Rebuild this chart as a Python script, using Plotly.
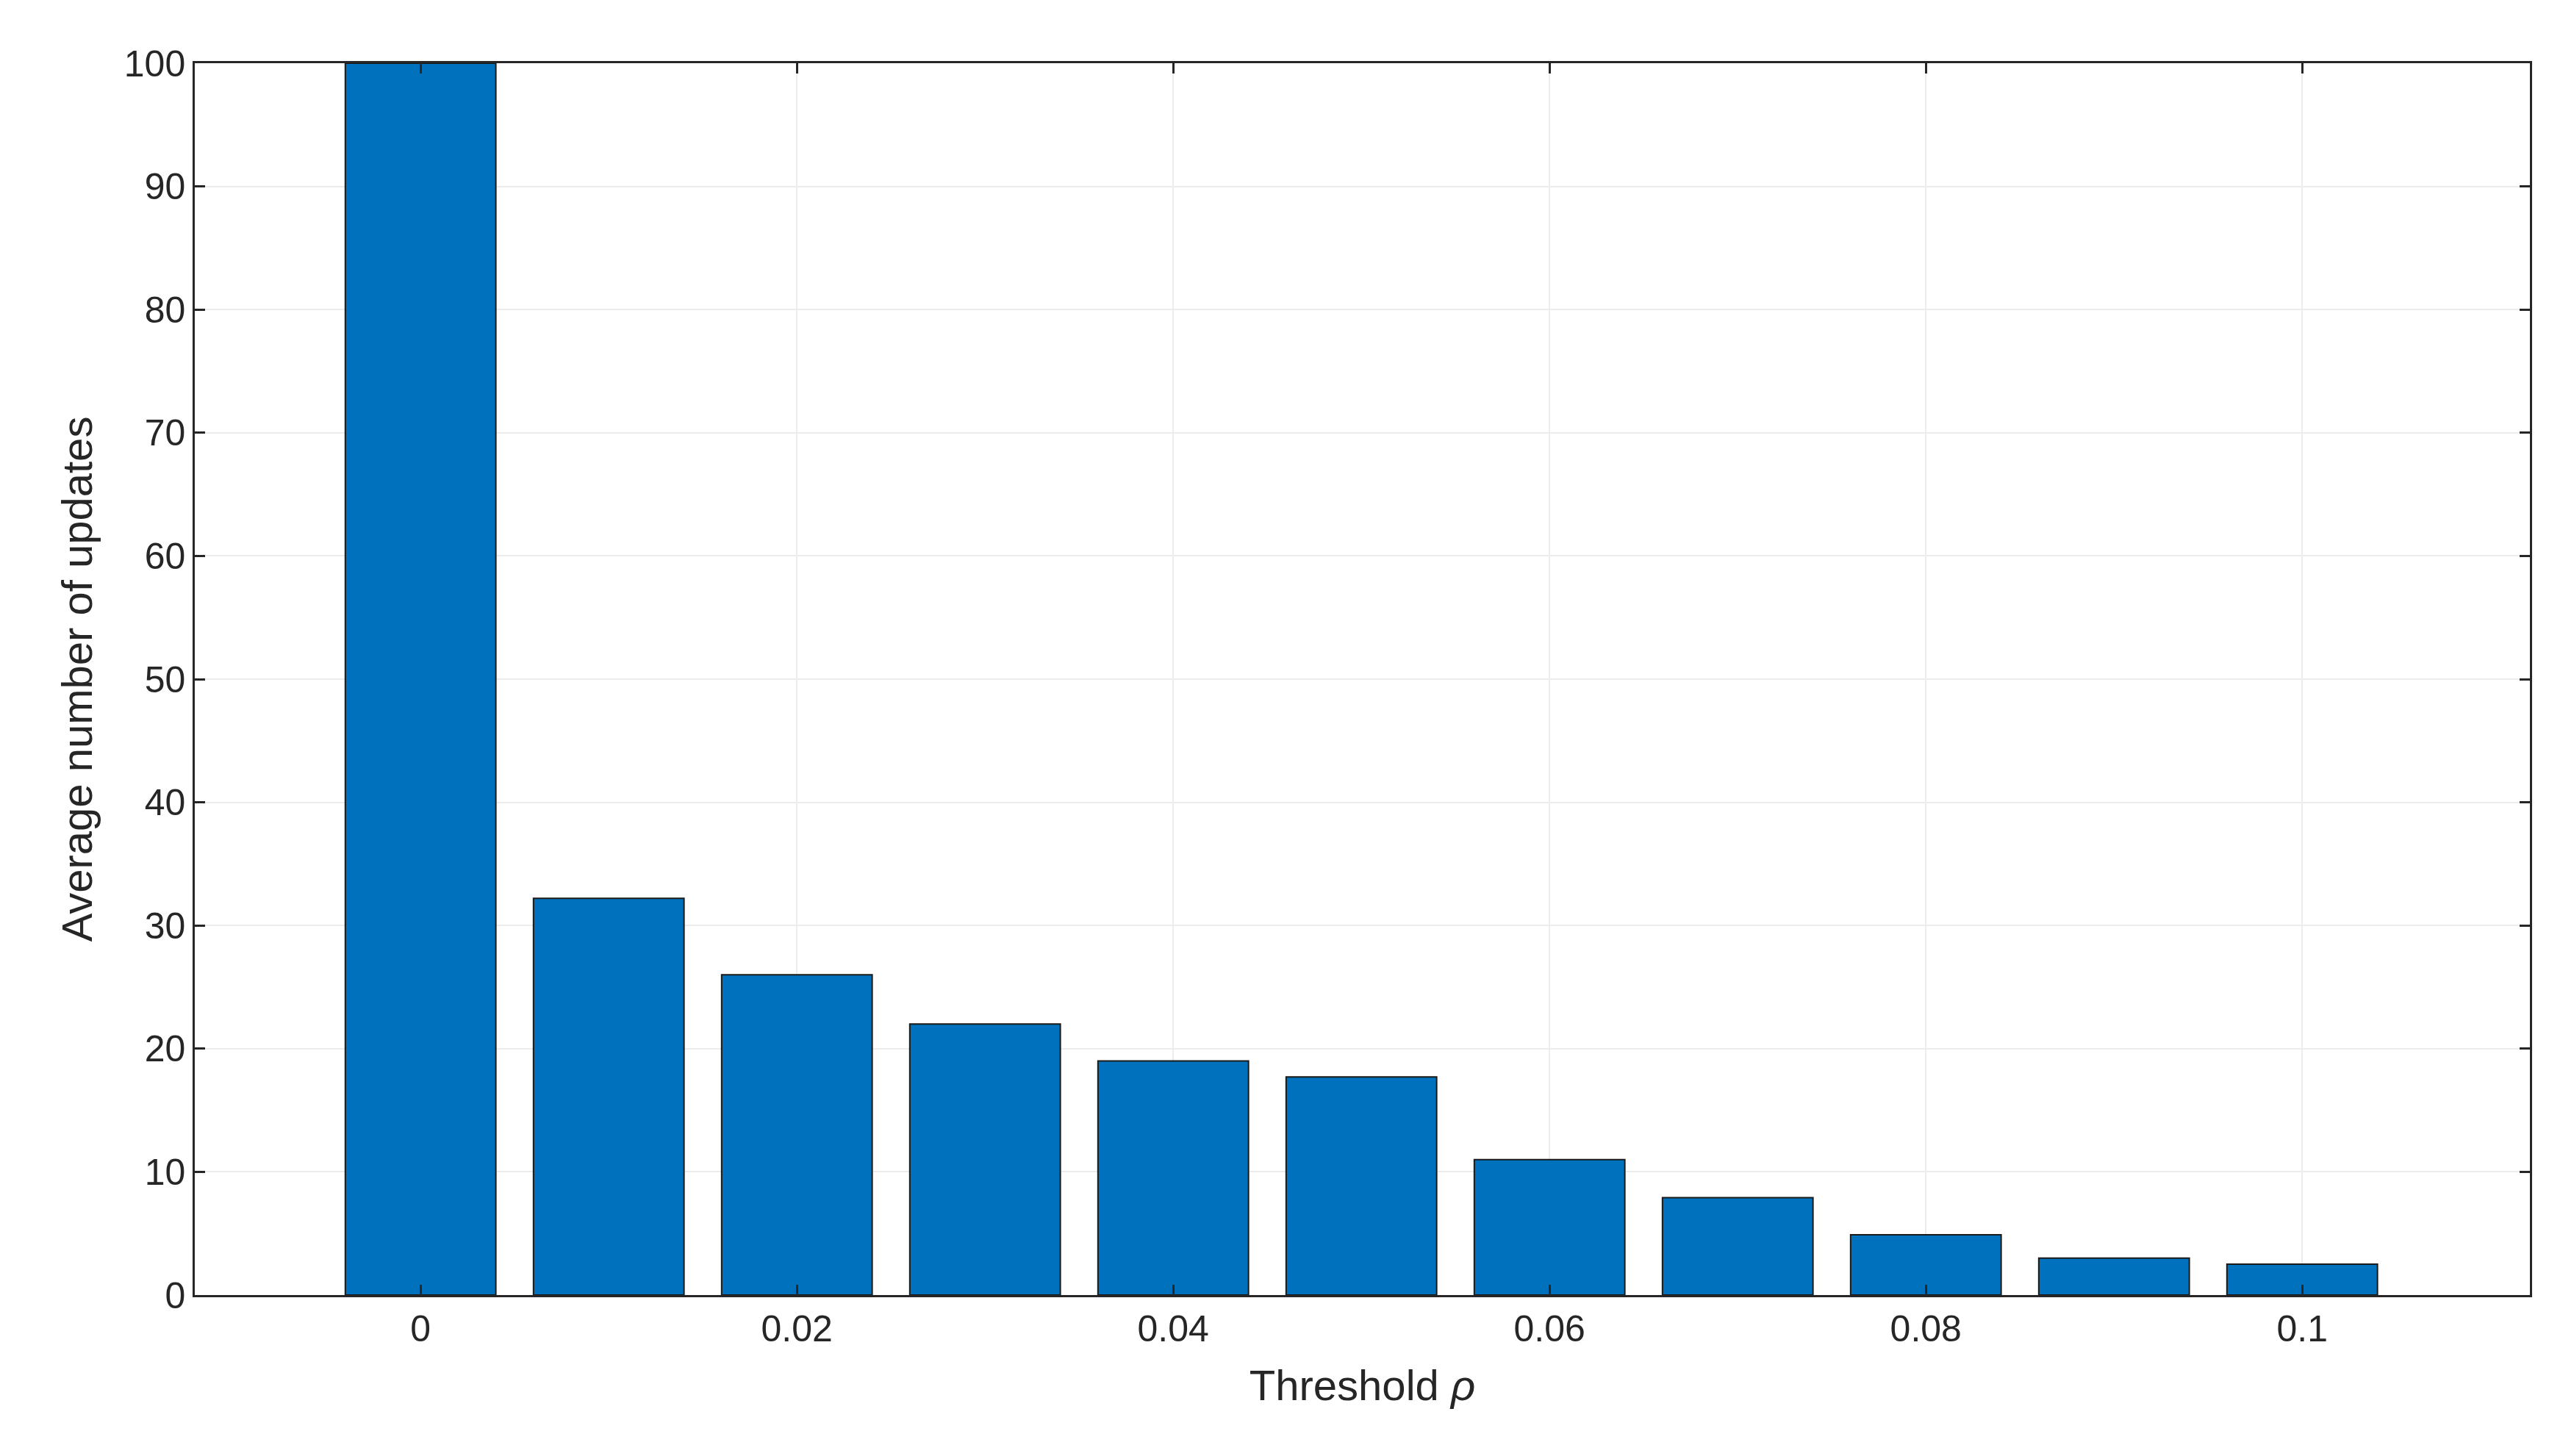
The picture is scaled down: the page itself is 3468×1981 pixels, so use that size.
import plotly.graph_objects as go

thresholds = [0, 0.01, 0.02, 0.03, 0.04, 0.05, 0.06, 0.07, 0.08, 0.09, 0.1]
updates = [100, 32.2, 26.0, 22.0, 19.0, 17.7, 11.0, 7.9, 4.9, 3.0, 2.5]
xticks = [0, 0.02, 0.04, 0.06, 0.08, 0.1]
xticklabels = ["0", "0.02", "0.04", "0.06", "0.08", "0.1"]

fig = go.Figure(go.Bar(x=thresholds, y=updates, width=0.008,
                       marker=dict(color="#0072BD", line=dict(color="#1a1a1a", width=2))))
ax = dict(showline=True, linecolor="#262626", linewidth=2.5, mirror="ticks", ticks="inside",
          ticklen=14, tickwidth=2.5, tickcolor="#262626", showgrid=True, gridcolor="#ececec",
          gridwidth=2, zeroline=False, tickfont=dict(size=50, color="#262626"))
fig.update_layout(
    width=3468, height=1981, plot_bgcolor="white", paper_bgcolor="white",
    font=dict(family="Arial, Liberation Sans, sans-serif", color="#262626"),
    margin=dict(l=257, r=34, t=78, b=227), showlegend=False,
    xaxis=dict(ax, range=[-0.012, 0.1121], tickvals=xticks, ticktext=xticklabels,
               title=dict(text="Threshold <i>ρ</i>", font=dict(size=58), standoff=30)),
    yaxis=dict(ax, range=[0, 100], dtick=10,
               title=dict(text="Average number of updates", font=dict(size=58), standoff=25)),
)
fig.write_html("out.html")
